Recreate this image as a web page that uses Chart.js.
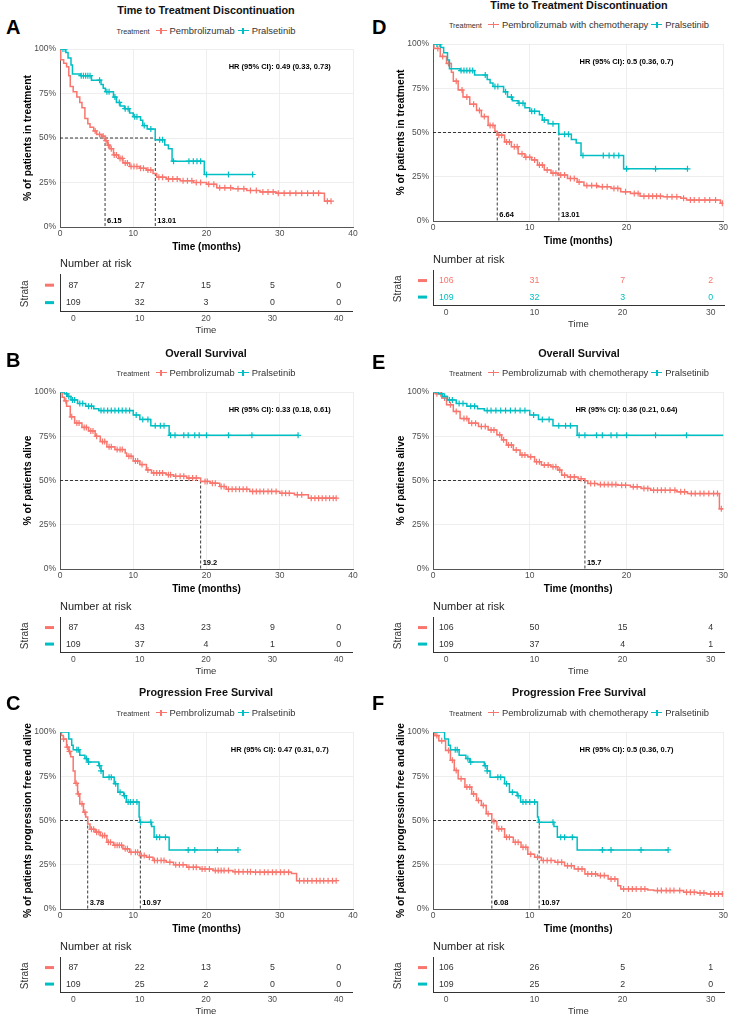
<!DOCTYPE html>
<html>
<head>
<meta charset="utf-8">
<script src="https://cdn.jsdelivr.net/npm/chart.js@4.4.1/dist/chart.umd.min.js"></script>
<style>
  body { margin: 0; width: 730px; height: 1017px; background: #fff; position: relative; overflow: hidden;
         font-family: "Liberation Sans", Arial, Helvetica, sans-serif; }
  .t { position: absolute; width: 360px; text-align: center; font-weight: bold; font-size: 10.8px; line-height: 12px; color: #111; }
  .lg { position: absolute; width: 360px; text-align: center; font-size: 9.4px; line-height: 12px; color: #333; white-space: nowrap; }
  .lg .cap { font-size: 7.3px; margin-right: 3px; }
  .key { display: inline-block; position: relative; width: 11px; height: 9px; vertical-align: -1px; margin: 0 3px 0 3px; }
  .key::before { content: ""; position: absolute; left: 0; right: 0; top: 4px; height: 1.4px; background: var(--c); }
  .key::after { content: ""; position: absolute; left: 4.8px; top: 1.5px; width: 1.4px; height: 6px; background: var(--c); }
  .let { position: absolute; font-weight: bold; font-size: 20px; line-height: 20px; color: #000; }
  canvas { position: absolute; }
</style>
</head>
<body>
<script>
// ---- time to treatment discontinuation ----
const ttdPralT = [0, 0.8, 1.1, 1.5, 1.7, 2.8, 4.3, 5.6, 5.9, 6.2, 7.3, 7.7, 8.2, 8.8, 9.5, 10.0, 11.0, 11.3, 11.9, 13.0, 14.3, 14.8, 15.3, 19.7, 26.3];
const ttdPralS = [100, 98, 95, 91, 86, 85, 82.5, 80, 78, 76, 73, 70, 68, 66.5, 64, 62, 60, 57, 55, 49, 46, 44, 37, 29.5, 29.5];
const ttdPralCens = [0.4, 0.7, 2.9, 3.2, 3.5, 3.8, 4.1, 5.4, 6.4, 6.7, 7.5, 8.1, 8.9, 9.3, 10.2, 10.5, 11.5, 12.4, 13.6, 14.0, 15.5, 17.6, 18.2, 18.7, 19.2, 20.0, 23.0, 26.3];

const ttdPemT = [0, 0.1, 0.5, 0.9, 1.2, 1.4, 1.8, 2.3, 2.7, 3.0, 3.4, 3.8, 4.1, 4.6, 5.0, 5.7, 6.15, 6.5, 6.8, 7.3, 8.0, 8.6, 9.5, 10.9, 11.8, 12.7, 13.2, 14.5, 16.4, 18.2, 20.0, 21.4, 23.6, 25.5, 27.3, 29.5, 36.1, 37.0];
const ttdPemS = [100, 94, 92, 90, 85, 79, 76, 73, 70, 67, 61, 58, 56, 54, 52, 51, 48.5, 46, 44, 40.5, 38.5, 36, 34, 33, 32, 30, 28, 27, 26, 25, 24, 22, 21.5, 20.5, 19.7, 19, 14.5, 14.5];
const ttdPemCens = [4.8, 5.4, 5.9, 6.3, 6.6, 7.0, 7.4, 7.7, 8.2, 8.5, 8.9, 9.2, 9.7, 10.1, 10.5, 11.0, 11.4, 12.0, 12.4, 13.5, 14.0, 14.8, 15.4, 16.0, 16.8, 17.4, 18.0, 18.6, 19.2, 20.3, 21.0, 21.8, 22.5, 23.3, 24.3, 25.1, 26.0, 26.8, 27.7, 28.4, 29.1, 29.8, 30.6, 31.4, 32.2, 33.0, 33.8, 34.6, 35.3, 36.5, 37.0];

const ttdChemoT = [0, 0.1, 0.75, 1.4, 1.9, 2.1, 2.6, 3.1, 3.8, 4.5, 5.0, 5.7, 6.4, 6.64, 7.4, 8.1, 8.8, 9.5, 10.2, 10.8, 11.5, 12.2, 12.9, 13.9, 14.9, 15.6, 17.0, 18.4, 19.4, 20.4, 21.4, 23.8, 25.6, 26.2, 29.7, 30.5];
const ttdChemoS = [100, 97.5, 93, 89, 84, 79, 74, 70, 66, 62.5, 59, 54, 50.7, 48.5, 44.7, 42, 38, 36, 34.5, 31.6, 28.8, 27, 26, 24, 22, 20, 19.4, 18.4, 16.5, 15.6, 14, 13.7, 12.8, 11.8, 10, 10];
const ttdChemoCens = [0.5, 1.0, 1.6, 2.4, 3.0, 3.5, 4.2, 4.8, 5.3, 5.9, 6.2, 6.8, 7.1, 7.6, 7.9, 8.4, 8.7, 9.2, 9.6, 10.0, 10.5, 11.0, 11.3, 11.8, 12.4, 12.7, 13.2, 13.6, 14.2, 14.6, 15.1, 15.9, 16.4, 16.9, 17.5, 18.0, 18.7, 19.1, 19.9, 20.8, 21.2, 21.8, 22.3, 22.7, 23.1, 23.5, 24.2, 24.7, 25.2, 25.9, 26.6, 27.0, 27.5, 28.1, 28.6, 29.2, 29.9];

// ---- overall survival ----
const osPralT = [0, 0.6, 1.0, 1.5, 2.4, 3.5, 4.6, 5.3, 10.0, 10.9, 12.4, 14.9, 32.5];
const osPralS = [100, 99, 97.5, 95.5, 93.5, 92, 90.5, 89.5, 87, 84.5, 81, 75.5, 75.5];
const osPralCens = [0.9, 1.2, 1.7, 2.0, 2.7, 3.1, 3.9, 4.3, 5.6, 6.0, 6.5, 7.0, 7.5, 8.0, 8.5, 9.0, 9.5, 10.4, 11.3, 12.0, 13.0, 13.7, 14.2, 15.1, 15.7, 16.9, 17.5, 18.4, 19.0, 20.0, 23.0, 26.2, 32.5];

const osPemT = [0, 0.3, 0.6, 0.9, 1.4, 2.0, 3.0, 3.9, 4.8, 5.5, 6.4, 7.5, 8.9, 9.1, 10.0, 10.9, 11.8, 12.5, 14.5, 15.5, 17.3, 19.2, 20.5, 21.8, 22.7, 25.9, 30.0, 32.0, 33.9, 37.7];
const osPemS = [100, 97, 95, 92, 86, 82.5, 80, 78, 75, 72, 69, 67.5, 65.6, 63.7, 61, 59, 56, 54.3, 53.3, 52.4, 51.4, 49.5, 48.5, 46.6, 45, 43.8, 42.8, 42, 40, 40];
const osPemCens = [0.8, 1.6, 2.3, 2.6, 3.3, 3.6, 4.2, 4.5, 5.0, 5.8, 6.1, 6.7, 7.0, 7.8, 8.2, 8.5, 9.4, 9.7, 10.3, 10.6, 11.2, 12.0, 12.8, 13.2, 13.6, 14.0, 14.8, 15.1, 15.8, 16.4, 16.9, 17.6, 18.1, 18.6, 19.8, 20.1, 20.8, 21.2, 22.0, 22.4, 23.0, 23.5, 24.0, 24.5, 25.0, 25.5, 26.3, 26.8, 27.3, 27.8, 28.4, 28.9, 29.5, 30.3, 30.8, 31.3, 32.4, 33.0, 34.3, 34.8, 35.3, 35.8, 36.3, 36.8, 37.3, 37.7];

const osChemoT = [0, 0.3, 0.9, 1.4, 2.1, 2.8, 3.7, 4.7, 5.7, 6.6, 7.1, 7.6, 8.3, 9.0, 9.8, 10.5, 11.2, 12.2, 12.9, 13.3, 13.9, 15.0, 15.7, 16.0, 17.0, 19.1, 20.4, 21.5, 22.5, 25.2, 26.3, 29.6, 30.5];
const osChemoS = [100, 99, 96.6, 92.8, 89, 85, 82.4, 80.5, 78.6, 75.8, 73, 70, 67.2, 64.4, 63.4, 60.6, 58.7, 57.8, 55.9, 53, 52, 51, 49.8, 48.3, 47.7, 47.3, 46.4, 45.5, 44.5, 43.6, 42.6, 34, 34];
const osChemoCens = [0.4, 0.8, 1.2, 1.8, 2.4, 3.2, 3.5, 4.0, 4.4, 5.0, 5.4, 6.0, 6.3, 6.9, 7.3, 7.8, 8.1, 8.6, 9.2, 9.5, 10.1, 10.7, 11.0, 11.5, 11.9, 12.4, 12.7, 13.1, 13.6, 14.2, 14.6, 15.3, 16.3, 16.7, 17.3, 17.7, 18.1, 18.5, 18.9, 19.5, 19.9, 20.7, 21.1, 21.8, 22.2, 22.8, 23.2, 23.6, 24.0, 24.5, 25.0, 25.6, 26.0, 26.7, 27.1, 27.6, 28.0, 28.5, 29.0, 29.4, 29.8];

// ---- progression free survival ----
const pfsPralT = [0, 1.2, 1.6, 1.8, 2.7, 3.4, 3.8, 5.3, 5.6, 5.9, 7.4, 7.9, 8.7, 9.05, 10.8, 10.9, 12.5, 12.85, 14.9, 24.3];
const pfsPralS = [100, 96, 92.5, 90, 86.8, 85, 83, 81, 78, 74.5, 70.8, 66, 64, 60.4, 52, 49, 46.6, 40.6, 33.4, 33.4];
const pfsPralCens = [2.3, 2.5, 3.6, 3.9, 5.4, 5.6, 6.7, 7.0, 7.6, 8.2, 8.8, 9.3, 9.6, 10.0, 10.5, 11.0, 12.4, 13.2, 13.6, 14.4, 17.5, 18.4, 21.5, 24.3];

const pfsPemT = [0, 0.2, 0.45, 0.9, 1.2, 1.45, 1.8, 2.05, 2.4, 2.7, 3.2, 3.5, 3.78, 4.1, 4.8, 5.5, 6.4, 7.3, 8.6, 9.5, 10.9, 11.8, 12.7, 14.5, 15.5, 17.3, 19.1, 20.9, 23.6, 26.4, 31.6, 32.3, 37.7];
const pfsPemS = [100, 98, 96, 91.5, 89, 86, 78, 71, 65, 59.4, 54.7, 52, 48, 45, 43.4, 41.5, 37.7, 36, 34, 32, 30.2, 29.2, 27.4, 26.4, 25, 23.6, 22.6, 21.7, 21.1, 20.8, 20, 16, 16];
const pfsPemCens = [0.5, 1.0, 1.3, 2.2, 2.5, 3.0, 3.4, 4.3, 4.6, 5.0, 5.3, 5.8, 6.1, 6.6, 6.9, 7.5, 7.8, 8.1, 8.4, 8.9, 9.2, 9.7, 10.3, 10.6, 11.1, 11.5, 12.2, 12.9, 13.3, 13.8, 14.2, 15.0, 15.8, 16.3, 16.8, 17.6, 18.2, 18.6, 19.4, 19.8, 20.4, 21.2, 21.6, 22.0, 22.4, 23.0, 23.9, 24.4, 25.0, 25.6, 26.0, 26.7, 27.3, 27.9, 28.4, 29.0, 29.5, 30.1, 30.6, 31.2, 32.7, 33.3, 33.8, 34.4, 35.0, 35.5, 36.0, 36.6, 37.2, 37.7];

const pfsChemoT = [0, 0.2, 0.6, 1.3, 1.8, 2.2, 2.6, 3.3, 4.0, 4.5, 5.0, 5.5, 6.08, 6.6, 7.4, 8.3, 9.1, 9.8, 10.5, 11.2, 12.6, 13.6, 14.6, 15.7, 17.0, 18.1, 19.1, 19.4, 22.2, 22.8, 25.9, 27.3, 28.3, 30.5];
const pfsChemoS = [100, 98, 95, 89.6, 84, 78.3, 73.6, 68.9, 65, 61.3, 58.5, 53.8, 49.5, 45.3, 40.6, 37.7, 34.9, 31, 29.2, 27.4, 26.4, 24.5, 22.6, 19.8, 18.9, 17, 13.2, 11.3, 10.8, 10.4, 9.4, 9, 8.5, 8.5];
const pfsChemoCens = [0.4, 0.9, 1.6, 2.0, 2.4, 2.9, 3.5, 3.8, 4.2, 4.7, 5.2, 5.7, 6.3, 6.8, 7.1, 7.6, 7.9, 8.5, 8.8, 9.3, 9.6, 10.1, 10.8, 11.4, 11.8, 12.2, 12.9, 13.3, 13.9, 14.3, 15.0, 15.4, 16.0, 16.4, 16.8, 17.3, 17.7, 18.4, 18.8, 19.7, 20.2, 20.6, 21.0, 21.5, 21.9, 23.2, 23.6, 24.1, 24.5, 24.9, 25.5, 26.2, 26.6, 27.0, 27.6, 28.0, 28.7, 29.1, 29.5, 29.9];

// ---- number at risk ----
const riskTimes40 = [0, 10, 20, 30, 40];
const riskTimes30 = [0, 10, 20, 30];
const ttdPemRisk = [87, 27, 15, 5, 0];
const ttdPralRiskA = [109, 32, 3, 0, 0];
const ttdChemoRisk = [106, 31, 7, 2];
const ttdPralRiskD = [109, 32, 3, 0];
const osPemRisk = [87, 43, 23, 9, 0];
const osPralRiskB = [109, 37, 4, 1, 0];
const osChemoRisk = [106, 50, 15, 4];
const osPralRiskE = [109, 37, 4, 1];
const pfsPemRisk = [87, 22, 13, 5, 0];
const pfsPralRiskC = [109, 25, 2, 0, 0];
const pfsChemoRisk = [106, 26, 5, 1];
const pfsPralRiskF = [109, 25, 2, 0];

const yTicks = [0, 25, 50, 75, 100];
const xTicks40 = [0, 10, 20, 30, 40];
const xTicks30 = [0, 10, 20, 30];

const RED = '#F8766D', CYAN = '#00BFC4';
const FONT = '"Liberation Sans", Arial, Helvetica, sans-serif';
Chart.defaults.font.family = FONT;
Chart.defaults.color = '#4d4d4d';

// column geometry
const colX = [0, 365], colW = [365, 365], colMid = [206, 579];
const yAxisW = [60, 68], padR = [12, 5];
const tableRange = [[-2, 42], [-1.5, 31.5]];

const panels = [
  { letter: 'A', col: 0, title: 'Time to Treatment Discontinuation', ytitle: '% of patients in treatment',
    pemName: 'Pembrolizumab', pem: [ttdPemT, ttdPemS, ttdPemCens], pral: [ttdPralT, ttdPralS, ttdPralCens],
    medians: [6.15, 13.01], hr: 'HR (95% CI): 0.49 (0.33, 0.73)', hrAt: [30, 90], xmax: 40, xTicks: xTicks40,
    riskTimes: riskTimes40, riskPem: ttdPemRisk, riskPral: ttdPralRiskA, colored: false,
    titleY: 10, letterY: 27, legendY: 31, plotTop: 49, plotBottom: 227, tableTop: 273.5, tableH: 37.5 },
  { letter: 'B', col: 0, title: 'Overall Survival', ytitle: '% of patients alive',
    pemName: 'Pembrolizumab', pem: [osPemT, osPemS, osPemCens], pral: [osPralT, osPralS, osPralCens],
    medians: [19.2], hr: 'HR (95% CI): 0.33 (0.18, 0.61)', hrAt: [30, 90], xmax: 40, xTicks: xTicks40,
    riskTimes: riskTimes40, riskPem: osPemRisk, riskPral: osPralRiskB, colored: false,
    titleY: 353, letterY: 360, legendY: 373, plotTop: 392, plotBottom: 569, tableTop: 617.3, tableH: 35.4 },
  { letter: 'C', col: 0, title: 'Progression Free Survival', ytitle: '% of patients progression free and alive',
    pemName: 'Pembrolizumab', pem: [pfsPemT, pfsPemS, pfsPemCens], pral: [pfsPralT, pfsPralS, pfsPralCens],
    medians: [3.78, 10.97], hr: 'HR (95% CI): 0.47 (0.31, 0.7)', hrAt: [30, 90], xmax: 40, xTicks: xTicks40,
    riskTimes: riskTimes40, riskPem: pfsPemRisk, riskPral: pfsPralRiskC, colored: false,
    titleY: 692, letterY: 703, legendY: 713, plotTop: 732, plotBottom: 909, tableTop: 957.3, tableH: 35.4 },
  { letter: 'D', col: 1, title: 'Time to Treatment Discontinuation', ytitle: '% of patients in treatment',
    pemName: 'Pembrolizumab with chemotherapy', pem: [ttdChemoT, ttdChemoS, ttdChemoCens], pral: [ttdPralT, ttdPralS, ttdPralCens],
    medians: [6.64, 13.01], hr: 'HR (95% CI): 0.5 (0.36, 0.7)', hrAt: [20, 90], xmax: 30, xTicks: xTicks30,
    riskTimes: riskTimes30, riskPem: ttdChemoRisk, riskPral: ttdPralRiskD, colored: true,
    titleY: 5, letterY: 27, legendY: 25, plotTop: 44, plotBottom: 221, tableTop: 270.3, tableH: 35.4 },
  { letter: 'E', col: 1, title: 'Overall Survival', ytitle: '% of patients alive',
    pemName: 'Pembrolizumab with chemotherapy', pem: [osChemoT, osChemoS, osChemoCens], pral: [osPralT, osPralS, osPralCens],
    medians: [15.7], hr: 'HR (95% CI): 0.36 (0.21, 0.64)', hrAt: [20, 90], xmax: 30, xTicks: xTicks30,
    riskTimes: riskTimes30, riskPem: osChemoRisk, riskPral: osPralRiskE, colored: false,
    titleY: 353, letterY: 362, legendY: 373, plotTop: 392, plotBottom: 569, tableTop: 617.3, tableH: 35.4 },
  { letter: 'F', col: 1, title: 'Progression Free Survival', ytitle: '% of patients progression free and alive',
    pemName: 'Pembrolizumab with chemotherapy', pem: [pfsChemoT, pfsChemoS, pfsChemoCens], pral: [pfsPralT, pfsPralS, pfsPralCens],
    medians: [6.08, 10.97], hr: 'HR (95% CI): 0.5 (0.36, 0.7)', hrAt: [20, 90], xmax: 30, xTicks: xTicks30,
    riskTimes: riskTimes30, riskPem: pfsChemoRisk, riskPral: pfsPralRiskF, colored: false,
    titleY: 692, letterY: 703, legendY: 713, plotTop: 732, plotBottom: 909, tableTop: 957.3, tableH: 35.4 }
];

function survAt(T, S, t) {
  let s = S[0];
  for (let i = 0; i < T.length; i++) if (T[i] <= t) s = S[i];
  return s;
}
const stepPts = (T, S) => T.map((t, i) => ({ x: t, y: S[i] }));
const censPts = (T, S, C) => C.map(t => ({ x: t, y: survAt(T, S, t) }));

function addDiv(cls, html, left, top) {
  const d = document.createElement('div');
  d.className = cls;
  d.innerHTML = html;
  d.style.left = left + 'px';
  d.style.top = top + 'px';
  document.body.appendChild(d);
  return d;
}

function addCanvas(left, top, w, h) {
  const cv = document.createElement('canvas');
  cv.width = w; cv.height = h;
  cv.style.left = left + 'px';
  cv.style.top = top + 'px';
  document.body.appendChild(cv);
  return cv;
}

function kmChart(p) {
  const c = p.col;
  const cv = addCanvas(colX[c], p.plotTop - 14, colW[c], p.plotBottom - p.plotTop + 44);
  const mMax = Math.max(...p.medians);
  const dash = { type: 'line', borderColor: '#222', borderWidth: 0.9, borderDash: [3, 2], pointRadius: 0, stepped: false };
  const curve = (d, col) => ({ type: 'line', data: stepPts(d[0], d[1]), borderColor: col, borderWidth: 1.5,
    stepped: 'before', pointRadius: 0, fill: false });
  const marks = (d, col) => ({ type: 'scatter', data: censPts(d[0], d[1], d[2]), showLine: false, pointStyle: 'cross',
    pointRadius: 3, borderColor: col, pointBorderColor: col, pointBorderWidth: 1.2 });

  const textPlugin = {
    id: 'kmText',
    afterDraw(chart) {
      const { ctx, chartArea: a, scales: { x, y } } = chart;
      ctx.save();
      ctx.fillStyle = '#000';
      ctx.textBaseline = 'middle';
      // y title
      ctx.save();
      ctx.translate(a.left - 32, (a.top + a.bottom) / 2);
      ctx.rotate(-Math.PI / 2);
      ctx.font = 'bold 10.3px ' + FONT;
      ctx.textAlign = 'center';
      ctx.fillText(p.ytitle, 0, 0);
      ctx.restore();
      // hazard ratio
      ctx.font = 'bold 7.5px ' + FONT;
      ctx.textAlign = 'center';
      ctx.fillText(p.hr, x.getPixelForValue(p.hrAt[0]), y.getPixelForValue(p.hrAt[1]));
      // median labels
      ctx.textAlign = 'left';
      p.medians.forEach(m => ctx.fillText(String(m), x.getPixelForValue(m) + 2, y.getPixelForValue(0) - 6));
      ctx.restore();
    }
  };

  new Chart(cv, {
    type: 'line',
    data: {
      datasets: [
        curve(p.pral, CYAN),
        curve(p.pem, RED),
        marks(p.pral, CYAN),
        marks(p.pem, RED),
        { ...dash, data: [{ x: 0, y: 50 }, { x: mMax, y: 50 }] },
        ...p.medians.map(m => ({ ...dash, data: [{ x: m, y: 50 }, { x: m, y: 0 }] }))
      ]
    },
    options: {
      responsive: false,
      animation: false,
      events: [],
      layout: { padding: { top: 14, right: padR[c], left: 0, bottom: 0 } },
      plugins: { legend: { display: false }, tooltip: { enabled: false } },
      scales: {
        x: {
          type: 'linear', min: 0, max: p.xmax,
          afterBuildTicks: s => { s.ticks = p.xTicks.map(v => ({ value: v })); },
          ticks: { font: { size: 8.5 }, color: '#4d4d4d', padding: 2, maxRotation: 0 },
          grid: { color: '#ececec', lineWidth: 0.9, drawTicks: false },
          border: { color: '#555', width: 1 },
          title: { display: true, text: 'Time (months)', color: '#000', font: { size: 10, weight: 'bold' }, padding: { top: 0, bottom: 4 } },
          afterFit: s => { s.height = 30; }
        },
        y: {
          type: 'linear', min: 0, max: 100,
          afterBuildTicks: s => { s.ticks = yTicks.map(v => ({ value: v })); },
          ticks: { font: { size: 8.5 }, color: '#4d4d4d', padding: 4, callback: v => v + '%' },
          grid: { color: '#ececec', lineWidth: 0.9, drawTicks: false },
          border: { color: '#555', width: 1 },
          afterFit: s => { s.width = yAxisW[c]; }
        }
      }
    },
    plugins: [textPlugin]
  });
}

function riskChart(p) {
  const c = p.col;
  const cv = addCanvas(colX[c], p.tableTop - 22, colW[c], 22 + p.tableH + 27);
  const rowCol = p.colored ? [RED, CYAN] : ['#333', '#333'];

  const tablePlugin = {
    id: 'riskText',
    afterDraw(chart) {
      const { ctx, chartArea: a, scales: { y } } = chart;
      ctx.save();
      ctx.textBaseline = 'middle';
      // numbers at risk, placed on the dataset points
      chart.data.datasets.forEach((ds, i) => {
        const meta = chart.getDatasetMeta(i);
        ctx.fillStyle = rowCol[i];
        ctx.font = '8.8px ' + FONT;
        ctx.textAlign = 'center';
        meta.data.forEach((el, j) => ctx.fillText(String(ds.data[j].n), el.x, el.y));
      });
      // header
      ctx.fillStyle = '#222';
      ctx.font = '11px ' + FONT;
      ctx.textAlign = 'left';
      ctx.fillText('Number at risk', a.left, a.top - 10.5);
      // strata keys
      [[2, RED], [1, CYAN]].forEach(([v, col]) => {
        ctx.fillStyle = col;
        ctx.fillRect(a.left - 15, y.getPixelForValue(v) - 1.5, 9, 3);
      });
      // Strata label
      ctx.translate(a.left - 34.5, (y.getPixelForValue(1) + y.getPixelForValue(2)) / 2);
      ctx.rotate(-Math.PI / 2);
      ctx.fillStyle = '#333';
      ctx.font = '10px ' + FONT;
      ctx.textAlign = 'center';
      ctx.fillText('Strata', 0, 0);
      ctx.restore();
    }
  };

  new Chart(cv, {
    type: 'scatter',
    data: {
      datasets: [
        { data: p.riskTimes.map((t, i) => ({ x: t, y: 2, n: p.riskPem[i] })), pointRadius: 0 },
        { data: p.riskTimes.map((t, i) => ({ x: t, y: 1, n: p.riskPral[i] })), pointRadius: 0 }
      ]
    },
    options: {
      responsive: false,
      animation: false,
      events: [],
      layout: { padding: { top: 22, right: padR[c] + 1, left: 0, bottom: 0 } },
      plugins: { legend: { display: false }, tooltip: { enabled: false } },
      scales: {
        x: {
          type: 'linear', min: tableRange[c][0], max: tableRange[c][1],
          afterBuildTicks: s => { s.ticks = p.riskTimes.map(v => ({ value: v })); },
          ticks: { font: { size: 8.5 }, color: '#4d4d4d', padding: 3, maxRotation: 0 },
          grid: { display: false, drawTicks: false },
          border: { color: '#333', width: 1 },
          title: { display: true, text: 'Time', color: '#333', font: { size: 9.5 }, padding: { top: 0, bottom: 1.5 } },
          afterFit: s => { s.height = 27; }
        },
        y: {
          type: 'linear', min: 0.52, max: 2.64,
          ticks: { display: false },
          grid: { display: false, drawTicks: false },
          border: { color: '#333', width: 1 },
          afterFit: s => { s.width = yAxisW[c]; }
        }
      }
    },
    plugins: [tablePlugin]
  });
}

panels.forEach(p => {
  const c = p.col;
  addDiv('t', p.title, colMid[c] - 180, p.titleY - 6);
  addDiv('let', p.letter, c === 0 ? 6 : 372, p.letterY - 10);
  addDiv('lg', `<span class="cap">Treatment</span><span class="key" style="--c:${RED}"></span>${p.pemName}` +
    `<span class="key" style="--c:${CYAN}"></span>Pralsetinib`, colMid[c] - 180, p.legendY - 6);
  kmChart(p);
  riskChart(p);
});
</script>
</body>
</html>
